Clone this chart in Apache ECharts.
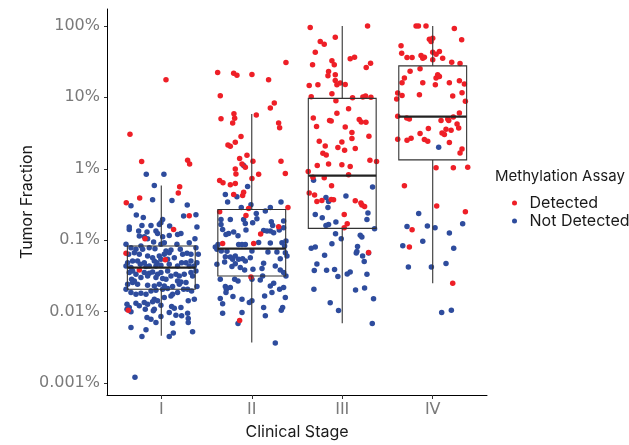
<!DOCTYPE html>
<html><head><meta charset="utf-8">
<script src="https://cdn.jsdelivr.net/npm/echarts@6/dist/echarts.min.js"></script>
<style>html,body{margin:0;padding:0;background:#fff}#c{width:629px;height:445px}</style>
</head><body><div id="c"></div>
<script>
// Categories and tick labels
const stages = ['I', 'II', 'III', 'IV'];
const yTickValues = [-3, -2, -1, 0, 1, 2];          // log10(tumor fraction, %)
const yTickLabels = ['0.001%', '0.01%', '0.1%', '1%', '10%', '100%'];

// Box statistics per stage, log10(%): [stage, lowerWhisker, Q1, median, Q3, upperWhisker]
const boxStats = [
  [1, -2.339, -1.687, -1.384, -1.082, -0.235],
  [2, -2.432, -1.501, -1.119, -0.570, 0.767],
  [3, -2.162, -0.835, -0.095, 0.985, 2.0],
  [4, -1.603, 0.124, 0.729, 1.441, 2.0]
];

// Points: [jitter offset from stage centre, log10(tumor fraction %)]
const stageI_detected = [[0.052,1.246],[-0.346,0.482],[-0.217,0.101],[0.291,0.119],[0.313,0.068],[0.203,-0.253],[0.188,-0.341],[-0.239,-0.411],[-0.387,-0.476],[0.309,-0.658],[0.136,-0.849],[-0.180,-0.979],[-0.390,-1.184],[0.044,-1.273],[-0.243,-1.417],[-0.365,-1.980]];
const stageI_notDetected = [[-0.166,-0.076],[0.029,-0.076],[-0.077,-0.234],[-0.096,-0.435],[0.118,-0.444],[-0.335,-0.518],[0.287,-0.509],[-0.276,-0.649],[-0.199,-0.681],[0.247,-0.663],[0.383,-0.644],[-0.354,-0.816],[-0.214,-0.793],[-0.114,-0.793],[-0.022,-0.779],[0.015,-0.709],[-0.004,-0.756],[0.092,-0.803],[0.394,-0.816],
[-0.354,-0.849],[-0.250,-0.872],[-0.158,-0.886],[-0.059,-0.872],[-0.041,-0.905],[0.015,-0.951],[0.088,-0.933],[0.180,-0.919],[0.217,-0.905],[-0.243,-0.942],[-0.188,-0.951],[-0.151,-0.979],[-0.085,-1.026],[0.033,-1.035],[0.372,-0.979],[0.309,-1.035],
[-0.390,-1.058],[-0.335,-1.105],[-0.280,-1.128],[-0.225,-1.082],[-0.206,-1.128],[-0.133,-1.105],[-0.070,-1.119],[-0.004,-1.058],[0.052,-1.152],[0.107,-1.138],[0.173,-1.058],[0.210,-1.128],[0.236,-1.198],[0.284,-1.184],[0.328,-1.198],[0.383,-1.105],[0.409,-1.198],[-0.361,-1.198],[-0.298,-1.175],[-0.243,-1.198],[-0.151,-1.221],[-0.096,-1.245],[-0.022,-1.221],[0.033,-1.198],[0.088,-1.175],
[-0.372,-1.315],[-0.317,-1.291],[-0.262,-1.291],[-0.188,-1.315],[-0.133,-1.361],[-0.077,-1.291],[-0.048,-1.315],[-0.004,-1.268],[0.070,-1.268],[0.144,-1.245],[0.225,-1.315],[0.273,-1.315],[0.328,-1.291],[0.365,-1.361],[0.394,-1.315],[-0.390,-1.361],[-0.335,-1.384],[-0.232,-1.338],[-0.169,-1.370],[-0.059,-1.361],[-0.004,-1.352],[0.088,-1.338],[0.180,-1.361],[0.309,-1.361],
[-0.354,-1.454],[-0.317,-1.431],[-0.280,-1.477],[-0.188,-1.454],[-0.133,-1.463],[-0.096,-1.445],[-0.041,-1.477],[-0.004,-1.454],[0.070,-1.431],[0.107,-1.501],[0.162,-1.477],[0.199,-1.501],[0.254,-1.477],[0.328,-1.454],[0.383,-1.431],[-0.328,-1.547],[-0.298,-1.571],[-0.225,-1.524],[-0.151,-1.501],[-0.059,-1.524],[0.015,-1.538],[0.052,-1.547],[0.180,-1.571],[0.217,-1.584],[0.273,-1.594],[0.346,-1.501],
[-0.372,-1.617],[-0.317,-1.594],[-0.262,-1.617],[-0.151,-1.631],[-0.077,-1.640],[-0.022,-1.617],[0.033,-1.640],[0.125,-1.650],[0.199,-1.617],[0.291,-1.687],[0.335,-1.710],[0.394,-1.650],[-0.390,-1.687],[-0.335,-1.733],[-0.280,-1.757],[-0.225,-1.743],[-0.169,-1.757],[-0.114,-1.710],[-0.059,-1.701],[0.015,-1.687],[0.070,-1.678],[0.125,-1.757],[0.180,-1.733],[0.247,-1.687],[0.365,-1.827],[-0.077,-1.827],[-0.041,-1.850],[0.033,-1.803],[0.107,-1.780],
[-0.379,-1.896],[-0.354,-1.943],[-0.280,-1.882],[-0.243,-1.920],[-0.188,-1.873],[-0.151,-1.896],[-0.096,-1.864],[-0.004,-1.910],[0.114,-1.929],[0.144,-1.952],[0.217,-1.943],[0.298,-1.850],[-0.379,-1.966],[-0.335,-2.003],[-0.177,-1.966],[-0.088,-1.989],[-0.077,-1.966],[0.088,-2.013],[0.162,-2.050],[0.225,-2.059],[0.291,-2.022],[0.298,-2.097],[-0.158,-2.083],[-0.114,-2.106],[-0.059,-2.152],[0.125,-2.162],[-0.004,-2.069],
[-0.335,-2.222],[-0.169,-2.255],[-0.214,-2.348],[0.088,-2.348],[0.133,-2.301],[0.346,-2.283],[0.298,-2.152],[-0.291,-2.920]];

const stageII_detected = [[0.378,1.488],[-0.377,1.348],[-0.200,1.339],[-0.164,1.311],[0.002,1.320],[0.186,1.246],[-0.348,1.022],[0.249,0.920],[0.205,0.850],[-0.340,0.701],[-0.197,0.771],[-0.189,0.706],[-0.211,0.641],[0.050,0.752],[0.297,0.641],[0.308,0.575],[-0.119,0.450],[-0.182,0.371],[-0.263,0.333],[-0.237,0.315],[-0.134,0.142],[-0.053,0.189],[0.013,0.105],[0.323,0.105],[-0.108,0.068],[-0.071,0.021],[-0.182,-0.002],[-0.175,-0.072],[0.076,-0.076],[0.002,-0.137],[0.371,-0.067],[-0.355,-0.165],[-0.318,-0.197],[-0.237,-0.225],[-0.182,-0.207],[-0.200,-0.360],[-0.101,-0.374],[-0.090,-0.328],[0.400,-0.542],[-0.035,-0.556],[-0.355,-0.602],[-0.064,-0.654],[0.297,-0.812],[0.098,-0.914],[0.021,-1.045],[-0.322,-1.045],[-0.009,-1.515],[-0.134,-2.125]];
const stageII_notDetected = [[-0.090,0.045],[-0.046,-0.249],[-0.292,-0.360],[-0.164,-0.393],[-0.267,-0.467],[-0.009,-0.505],[-0.116,-0.542],[0.205,-0.542],[0.323,-0.467],[0.150,-0.593],[0.050,-0.626],[-0.090,-0.709],[-0.071,-0.765],[0.010,-0.756],[0.057,-0.700],[0.216,-0.742],[0.231,-0.793],[0.352,-0.733],[-0.340,-0.709],[-0.340,-0.779],[-0.322,-0.849],[-0.237,-0.709],[-0.285,-0.919],[-0.256,-0.905],[-0.200,-0.886],[-0.152,-0.937],[-0.064,-0.858],[0.131,-0.863],[0.168,-0.872],[0.205,-0.872],[0.242,-0.896],[0.304,-0.858],[0.352,-0.826],
[-0.373,-1.059],[-0.403,-1.096],[-0.385,-1.128],[-0.337,-1.152],[-0.274,-1.156],[-0.145,-1.059],[-0.108,-1.059],[-0.071,-1.059],[0.002,-1.152],[0.076,-1.031],[0.205,-1.040],[0.334,-1.035],[0.363,-1.082],[0.378,-1.012],[-0.292,-1.231],[-0.237,-1.235],[-0.211,-1.268],[-0.182,-1.221],[-0.145,-1.268],[-0.101,-1.259],[-0.071,-1.291],[-0.016,-1.245],[0.179,-1.166],[0.278,-1.166],[0.315,-1.259],[0.371,-1.175],[0.389,-1.221],
[-0.385,-1.338],[-0.300,-1.305],[-0.219,-1.370],[-0.182,-1.329],[-0.127,-1.384],[-0.079,-1.417],[0.013,-1.408],[0.131,-1.324],[0.113,-1.398],[0.260,-1.361],[0.315,-1.417],[0.352,-1.454],[-0.348,-1.547],[-0.292,-1.650],[-0.281,-1.687],[-0.237,-1.664],[-0.189,-1.547],[-0.152,-1.571],[0.002,-1.547],[0.094,-1.557],[0.120,-1.501],[0.205,-1.640],[0.242,-1.603],[0.378,-1.501],
[-0.285,-1.734],[-0.348,-1.817],[-0.322,-1.892],[-0.208,-1.789],[-0.108,-1.827],[0.002,-1.850],[0.142,-1.780],[0.223,-1.734],[0.308,-1.687],[0.371,-1.803],[0.352,-1.664],[-0.322,-2.022],[-0.108,-2.013],[-0.027,-1.873],[0.131,-1.943],[0.150,-2.059],[0.326,-1.980],[0.341,-1.943],[-0.152,-2.166],[0.260,-2.441]];

const stageIII_detected = [[-0.354,1.977],[0.280,2.0],[-0.243,1.782],[-0.199,1.744],[-0.077,1.842],[-0.298,1.633],[-0.328,1.456],[-0.114,1.512],[-0.088,1.456],[-0.151,1.363],[-0.158,1.302],[-0.077,1.316],[-0.077,1.237],[-0.059,1.176],[-0.022,1.200],[0.033,1.181],[-0.365,1.167],[-0.269,1.176],[0.088,1.540],[0.136,1.563],[0.265,1.419],[0.313,1.479],[-0.114,1.051],[-0.343,1.009],[-0.070,0.953],[0.114,0.995],[0.228,1.004],[0.258,1.018],[0.317,1.000],[-0.320,0.711],[-0.284,0.590],[-0.140,0.674],[-0.122,0.669],[-0.059,0.776],[0.070,0.841],[0.033,0.585],[0.107,0.506],[0.107,0.422],[0.188,0.688],[0.210,0.655],[0.262,0.650],[0.295,0.455],[-0.254,0.385],[-0.188,0.320],[-0.048,0.297],[-0.004,0.376],[0.026,0.259],[0.144,0.283],[-0.214,0.218],[-0.177,0.194],[-0.276,0.045],[-0.151,0.068],[-0.004,0.055],[0.088,0.031],[0.306,0.120],[0.379,0.101],[-0.376,-0.038],[-0.324,-0.118],[-0.199,-0.127],[0.070,-0.085],[-0.118,-0.239],[-0.365,-0.341],[-0.306,-0.369],[-0.280,-0.457],[-0.225,-0.443],[-0.122,-0.429],[-0.096,-0.434],[0.144,-0.448],[0.206,-0.481],[0.217,-0.509],[0.247,-0.527],[0.022,-0.639],[0.055,-0.769],[0.022,-0.825],[0.291,-1.174]];
const stageIII_notDetected = [[-0.317,-0.160],[0.335,-0.257],[-0.180,-0.402],[-0.151,-0.457],[-0.158,-0.541],[0.041,-0.383],[-0.298,-0.639],[-0.221,-0.686],[-0.180,-0.793],[-0.151,-0.779],[-0.070,-0.746],[0.284,-0.620],[0.273,-0.709],[0.357,-0.839],[-0.074,-0.909],[-0.011,-0.979],[-0.114,-1.049],[0.199,-0.932],[0.217,-0.956],[-0.343,-1.114],[-0.298,-1.095],[-0.195,-1.212],[0.169,-1.090],[0.162,-1.160],[0.155,-1.179],[0.225,-1.221],[0.291,-1.179],[-0.280,-1.333],[-0.309,-1.426],[-0.173,-1.421],[-0.085,-1.412],[-0.048,-1.509],[0.055,-1.472],[0.088,-1.444],[0.243,-1.300],[0.273,-1.477],[-0.313,-1.686],[0.147,-1.696],[0.247,-1.668],[0.346,-1.821],[-0.133,-1.877],[-0.041,-1.984],[0.332,-2.166]];

const stageIV_detected = [[-0.184,2.0],[-0.158,2.0],[-0.074,2.0],[0.239,1.963],[-0.037,1.814],[0,1.828],[-0.018,1.782],[0.320,1.805],[-0.350,1.721],[-0.343,1.619],[-0.284,1.558],[-0.228,1.558],[-0.129,1.586],[-0.110,1.549],[-0.092,1.563],[0,1.633],[0.037,1.605],[0.074,1.642],[0,1.526],[0.110,1.549],[0.210,1.493],[0.302,1.474],[-0.250,1.367],[-0.140,1.400],[-0.313,1.270],[-0.339,1.204],[-0.110,1.204],[0.037,1.270],[0.055,1.316],[0.074,1.293],[0.029,1.176],[0.184,1.204],[0.295,1.232],[0.350,1.186],[-0.387,1.060],[-0.339,1.027],[-0.147,1.037],[0.221,1.018],[0.324,1.065],[-0.398,0.976],[0.361,0.944],[-0.387,0.734],[-0.287,0.711],[-0.258,0.697],[0.092,0.674],[0.177,0.674],[0.166,0.697],[0.228,0.725],[0.295,0.781],[0.269,0.627],[0.287,0.571],[0.147,0.553],[0.203,0.539],[-0.048,0.562],[-0.140,0.492],[0.103,0.501],[0.129,0.478],[-0.387,0.413],[-0.284,0.399],[-0.239,0.427],[-0.092,0.408],[-0.055,0.385],[0.184,0.366],[0.324,0.278],[0.302,0.222],[0.037,0.013],[0.228,0.013],[0.387,0.022],[-0.313,-0.239],[0.044,-0.523],[0.361,-0.602],[-0.228,-0.853],[-0.258,-1.095],[0.221,-1.603]];
const stageIV_notDetected = [[0.066,0.301],[-0.155,-0.625],[-0.284,-0.807],[-0.059,-0.802],[0.026,-0.825],[0.184,-0.900],[0.331,-0.769],[-0.331,-1.077],[-0.110,-1.016],[0.232,-1.114],[-0.269,-1.374],[-0.015,-1.374],[0.147,-1.328],[0.099,-2.012],[0.206,-1.980]];

const detectedByStage = [stageI_detected, stageII_detected, stageIII_detected, stageIV_detected];
const notDetectedByStage = [stageI_notDetected, stageII_notDetected, stageIII_notDetected, stageIV_notDetected];

function toPoints(groups) {
  const out = [];
  groups.forEach((g, i) => g.forEach(p => out.push([i + 1 + p[0], p[1]])));
  return out;
}

const chart = echarts.init(document.getElementById('c'), null, {renderer: 'canvas'});
const FONT = 'Inter, "Noto Sans", sans-serif';
const TICKFONT = '"DejaVu Sans", sans-serif';
const RED = '#EE1F27', BLUE = '#2E4C9D';

chart.setOption({
  backgroundColor: '#fff',
  animation: false,
  grid: {left: 107, right: 142, top: 9, bottom: 49},
  xAxis: {
    type: 'value', min: 0.4, max: 4.6,
    splitLine: {show: false},
    axisLine: {show: true, onZero: false, lineStyle: {color: '#000', width: 1}},
    axisTick: {show: true, customValues: [1, 2, 3, 4], length: 4, lineStyle: {color: '#333'}},
    axisLabel: {customValues: [1, 2, 3, 4], formatter: v => stages[Math.round(v) - 1], color: '#7a7a7a', fontSize: 16, fontFamily: TICKFONT, margin: 7},
    name: 'Clinical Stage', nameLocation: 'middle', nameGap: 29, nameMoveOverlap: false,
    nameTextStyle: {color: '#1a1a1a', fontSize: 16, fontFamily: FONT}
  },
  yAxis: {
    type: 'value', min: -3.168, max: 2.237,
    splitLine: {show: false},
    axisLine: {show: true, onZero: false, lineStyle: {color: '#000', width: 1}},
    axisTick: {show: true, customValues: yTickValues, length: 3, lineStyle: {color: '#333'}},
    axisLabel: {customValues: yTickValues, formatter: v => yTickLabels[yTickValues.indexOf(Math.round(v))], color: '#7a7a7a', fontSize: 16, fontFamily: TICKFONT, margin: 7},
    name: 'Tumor Fraction', nameLocation: 'middle', nameGap: 72, nameRotate: 90, nameMoveOverlap: false,
    nameTextStyle: {color: '#1a1a1a', fontSize: 16, fontFamily: FONT}
  },
  legend: {
    orient: 'vertical', left: 507, top: 190, itemGap: 2,
    itemWidth: 20, itemHeight: 5, icon: 'circle',
    data: ['Detected', 'Not Detected'],
    textStyle: {color: '#1a1a1a', fontSize: 16, fontFamily: FONT}
  },
  graphic: [{type: 'text', left: 495, top: 169, style: {text: 'Methylation Assay', fill: '#1a1a1a', font: '15px ' + FONT}}],
  series: [
    {name: 'Not Detected', type: 'scatter', data: toPoints(notDetectedByStage), symbolSize: 5.5, itemStyle: {color: BLUE, opacity: 1}, z: 2},
    {name: 'Detected', type: 'scatter', data: toPoints(detectedByStage), symbolSize: 5.5, itemStyle: {color: RED, opacity: 1}, z: 2},
    {
      type: 'custom', z: 3, data: boxStats,
      encode: {x: 0, y: [1, 2, 3, 4, 5]},
      renderItem: (params, api) => {
        const x = api.value(0);
        const lo = api.coord([x, api.value(1)]);
        const q1 = api.coord([x, api.value(2)]);
        const md = api.coord([x, api.value(3)]);
        const q3 = api.coord([x, api.value(4)]);
        const hi = api.coord([x, api.value(5)]);
        const l = api.coord([x - 0.375, 0])[0];
        const r = api.coord([x + 0.375, 0])[0];
        const st = {stroke: '#333', fill: null, lineWidth: 1.1};
        return {type: 'group', children: [
          {type: 'line', shape: {x1: lo[0], y1: lo[1], x2: q1[0], y2: q1[1]}, style: st},
          {type: 'line', shape: {x1: q3[0], y1: q3[1], x2: hi[0], y2: hi[1]}, style: st},
          {type: 'rect', shape: {x: l, y: q3[1], width: r - l, height: q1[1] - q3[1]}, style: st},
          {type: 'line', shape: {x1: l, y1: md[1], x2: r, y2: md[1]}, style: {stroke: '#222', lineWidth: 2.2}}
        ]};
      }
    }
  ]
});
</script></body></html>
